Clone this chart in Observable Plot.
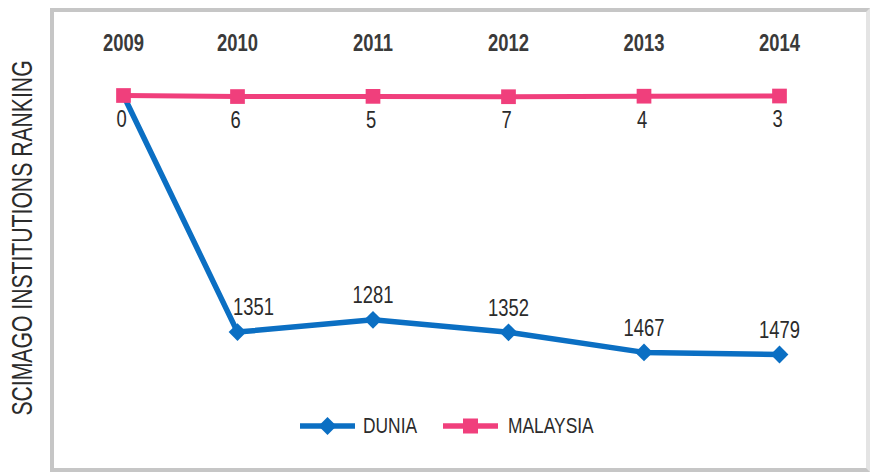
<!DOCTYPE html>
<html>
<head>
<meta charset="utf-8">
<script src="https://cdn.jsdelivr.net/npm/d3@7"></script>
<script src="https://cdn.jsdelivr.net/npm/@observablehq/plot@0.6"></script>
<style>
  html, body { margin: 0; padding: 0; background: #fff; }
  body { width: 870px; height: 472px; position: relative; overflow: hidden;
         font-family: "Liberation Sans", Arial, sans-serif; }
  #chart { position: absolute; left: 0; top: 0; }
  #frame { position: absolute; left: 50px; top: 8px; width: 812px; height: 456px;
           border: 4px solid #c6c6c6; border-right-color: #e4e4e4; box-sizing: content-box; pointer-events: none; }
  #ylabel { position: absolute; left: 22px; top: 238px; transform: translate(-50%, -50%) rotate(-90deg) scaleX(0.73);
            white-space: nowrap; font-size: 29px; line-height: 1; color: #2b2b2b; }
  .sw { position: absolute; }
  .lt { position: absolute; font-size: 22px; line-height: 1; color: #2b2b2b; white-space: nowrap;
        transform: translateY(-50%) scaleX(0.79); transform-origin: left center; }
</style>
</head>
<body>
<div id="chart"></div>
<div id="frame"></div>
<div id="ylabel"></div>
<div id="legend"></div>
<script>
const years = [2009, 2010, 2011, 2012, 2013, 2014];
const dunia = [0, 1351, 1281, 1352, 1467, 1479];
const malaysia = [0, 6, 5, 7, 4, 3];
const seriesNames = ["DUNIA", "MALAYSIA"];
const seriesColors = ["#0b6fc3", "#f03f7c"];
const seriesSymbols = ["diamond2", "square"];
const yTitle = "SCIMAGO INSTITUTIONS RANKING";

const rows = years.flatMap((yr, i) => [
  {year: yr, series: seriesNames[0], value: dunia[i]},
  {year: yr, series: seriesNames[1], value: malaysia[i]}
]);
const duniaRows = rows.filter(d => d.series === seriesNames[0]);
const malRows = rows.filter(d => d.series === seriesNames[1]);
const font = '"Liberation Sans", Arial, sans-serif';

const plot = Plot.plot({
  width: 870,
  height: 472,
  marginTop: 95,
  marginBottom: 118,
  style: {fontFamily: font, background: "transparent", overflow: "visible"},
  x: {type: "linear", domain: [2009, 2010, 2014], range: [123, 237, 779], axis: null},
  y: {domain: [0, 1479], reverse: true, axis: null},
  marks: [
    Plot.text(years, {x: d => d, text: d => String(d), frameAnchor: "top", dy: -61,
      fontSize: 23, fontWeight: "bold", fill: "#3a3a3a"}),
    Plot.line(duniaRows, {x: "year", y: "value", stroke: seriesColors[0], strokeWidth: 5.5}),
    Plot.dot(duniaRows.filter(d => d.value > 0), {x: "year", y: "value", symbol: seriesSymbols[0],
      r: 8, fill: seriesColors[0], stroke: "none"}),
    Plot.line(malRows, {x: "year", y: "value", stroke: seriesColors[1], strokeWidth: 5}),
    Plot.dot(malRows, {x: "year", y: "value", symbol: seriesSymbols[1], r: 8.3,
      fill: seriesColors[1], stroke: "none"}),
    Plot.text(duniaRows.filter((d, i) => i === 1), {x: "year", y: "value", text: d => String(d.value),
      dy: -24, dx: 16, fontSize: 23, fill: "#2b2b2b"}),
    Plot.text(duniaRows.filter((d, i) => i > 1), {x: "year", y: "value", text: d => String(d.value),
      dy: -24, fontSize: 23, fill: "#2b2b2b"}),
    Plot.text(malRows, {x: "year", y: "value", text: d => String(d.value),
      dy: 24, dx: -2, fontSize: 23, fill: "#2b2b2b"})
  ]
});
// condense text horizontally (narrow typeface look)
plot.querySelectorAll("text").forEach(t => {
  const tr = t.getAttribute("transform");
  if (tr) t.setAttribute("transform", tr + " scale(0.8,1)");
});
document.getElementById("chart").appendChild(plot);
document.getElementById("ylabel").textContent = yTitle;

const legend = document.getElementById("legend");
const swatchLeft = [300, 443];
const textLeft = [363, 508];
const legendY = 426;
seriesNames.forEach((name, i) => {
  const sw = document.createElement("div");
  sw.className = "sw";
  sw.style.left = swatchLeft[i] + "px";
  sw.style.top = (legendY - 11) + "px";
  const sym = i === 0
    ? `<path d="M27.5 2 L36.5 11 L27.5 20 L18.5 11 Z" fill="${seriesColors[i]}"/>`
    : `<rect x="20" y="3.5" width="15" height="15" fill="${seriesColors[i]}"/>`;
  sw.innerHTML = `<svg width="55" height="22" style="display:block"><line x1="0" x2="55" y1="11" y2="11" stroke="${seriesColors[i]}" stroke-width="5.5"/>${sym}</svg>`;
  legend.appendChild(sw);
  const tx = document.createElement("div");
  tx.className = "lt";
  tx.style.left = textLeft[i] + "px";
  tx.style.top = legendY + "px";
  tx.textContent = name;
  legend.appendChild(tx);
});
</script>
</body>
</html>
